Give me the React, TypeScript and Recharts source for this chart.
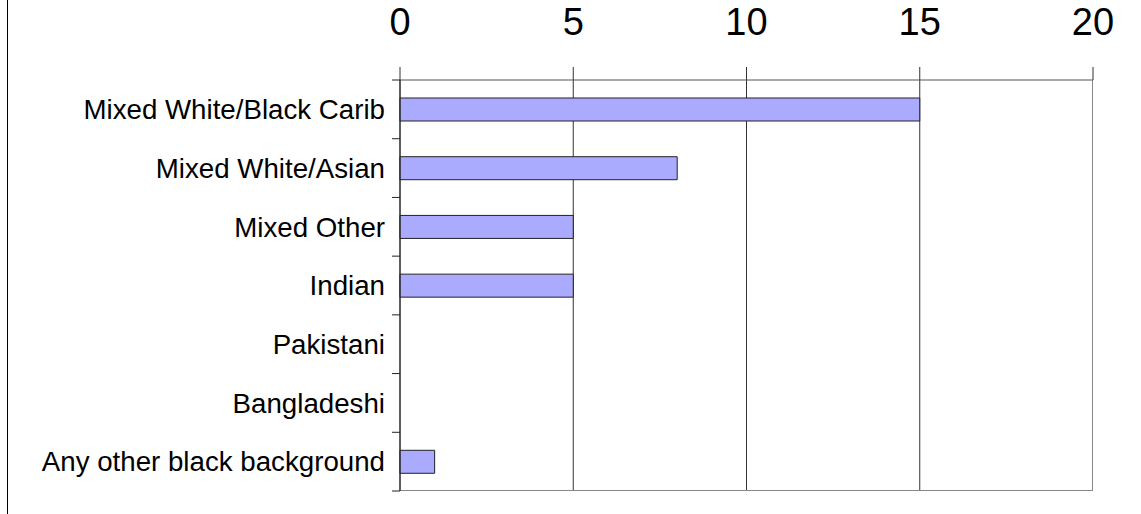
import {
  BarChart, Bar, XAxis, YAxis, CartesianGrid,
} from 'recharts';

const categories = [
  'Mixed White/Black Carib',
  'Mixed White/Asian',
  'Mixed Other',
  'Indian',
  'Pakistani',
  'Bangladeshi',
  'Any other black background',
];
const values = [15, 8, 5, 5, 0, 0, 1];
const xTicks = [0, 5, 10, 15, 20];
const xMax = 20;

const data = categories.map((name, i) => ({ name, value: values[i] }));

const font = '"Liberation Sans", Arial, sans-serif';

// category label plus small tick marks on the band edges
function CategoryTick(props: any) {
  const { x, y, payload, index } = props;
  const half = payload && payload.offset ? payload.offset : 29.36;
  const last = index === categories.length - 1;
  return (
    <g>
      <line x1={x - 8} x2={x} y1={y - half} y2={y - half} stroke="#222" />
      {last && <line x1={x - 8} x2={x} y1={y + half} y2={y + half} stroke="#222" />}
      <text
        x={x - 15}
        y={y}
        dy="0.355em"
        textAnchor="end"
        fill="#000"
        fontSize={27.7}
        fontFamily={font}
      >
        {payload.value}
      </text>
    </g>
  );
}

// inner gridlines only (the right edge is drawn lighter)
const innerLines = ({ xAxis, offset }: any) =>
  xTicks.slice(0, -1).map((t) =>
    xAxis && typeof xAxis.scale === 'function'
      ? xAxis.scale(t)
      : offset.left + (offset.width * t) / xMax,
  );

export default function App() {
  return (
    <div style={{ position: 'absolute', left: 0, top: 0, width: 1141, height: 514 }}>
      <div
        style={{
          position: 'absolute', left: 7, top: 0, width: 0, height: 514,
          borderLeft: '1px solid #000',
        }}
      />
      <BarChart
        layout="vertical"
        data={data}
        width={1141}
        height={514}
        margin={{ top: 0, right: 48, bottom: 23, left: 0 }}
        style={{ fontFamily: font }}
      >
        <CartesianGrid horizontal={false} stroke="#333" verticalCoordinatesGenerator={innerLines} />
        <CartesianGrid
          horizontal={false}
          stroke="#888"
          verticalCoordinatesGenerator={({ offset }: any) => [offset.left + offset.width - 0.5]}
        />
        <CartesianGrid
          vertical={false}
          stroke="#888"
          horizontalCoordinatesGenerator={({ offset }: any) => [offset.top + offset.height - 0.5]}
        />
        <XAxis
          type="number"
          orientation="top"
          domain={[0, xMax]}
          ticks={xTicks}
          height={80}
          tickSize={13}
          tickMargin={32}
          axisLine={{ stroke: '#555' }}
          tickLine={{ stroke: '#333' }}
          tick={{ fill: '#000', fontSize: 38, fontFamily: font }}
        />
        <YAxis
          type="category"
          dataKey="name"
          width={400}
          tickLine={false}
          axisLine={{ stroke: '#222' }}
          tickSize={0}
          tickMargin={0}
          interval={0}
          tick={<CategoryTick />}
        />
        <Bar
          dataKey="value"
          barSize={23}
          fill="#aaaaff"
          stroke="#222"
          strokeWidth={1}
          isAnimationActive={false}
        />
      </BarChart>
    </div>
  );
}
